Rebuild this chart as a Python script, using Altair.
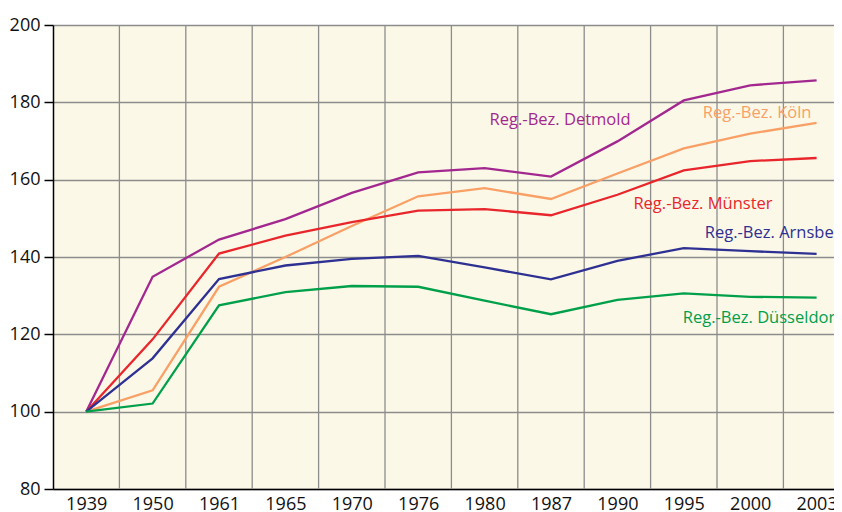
import altair as alt
import pandas as pd

years = ["1939", "1950", "1961", "1965", "1970", "1976", "1980", "1987", "1990", "1995", "2000", "2003"]
series_names = ["Reg.-Bez. Detmold", "Reg.-Bez. Köln", "Reg.-Bez. Münster", "Reg.-Bez. Arnsberg", "Reg.-Bez. Düsseldorf"]
detmold = [100, 134.9, 144.5, 149.8, 156.6, 161.9, 163.0, 160.8, 169.9, 180.5, 184.4, 185.7]
koeln = [100, 105.5, 132.3, 140.0, 148.0, 155.7, 157.8, 155.0, 161.6, 168.1, 171.9, 174.7]
muenster = [100, 118.7, 140.9, 145.5, 149.0, 152.0, 152.4, 150.8, 156.1, 162.4, 164.8, 165.6]
arnsberg = [100, 113.8, 134.3, 137.8, 139.5, 140.3, 137.3, 134.2, 139.0, 142.3, 141.5, 140.8]
duesseldorf = [100, 102.1, 127.5, 130.9, 132.5, 132.3, 128.7, 125.2, 128.9, 130.6, 129.7, 129.5]
colors = ["#A2288F", "#F9A066", "#E8262B", "#2E3192", "#00A04B"]

# label annotations: anchor year, anchor value, pixel shift
label_years = ["1980", "1995", "1990", "1995", "1995"]
label_values = [175.5, 177.3, 153.8, 146.3, 124.1]
label_dx = [5, 19, 16, 21, -1]

FONT = "Open Sans"
W = 781          # visible plot width (plot continues past the window edge)
STEP = 66.4      # pixel width of one year slot
H = 464

pos = {y: i for i, y in enumerate(years)}

rows = []
for name, vals in zip(series_names, [detmold, koeln, muenster, arnsberg, duesseldorf]):
    for y, v in zip(years, vals):
        rows.append({"year": y, "idx": pos[y], "value": v, "series": name})
df = pd.DataFrame(rows)

xscale = alt.Scale(domain=[-0.5, -0.5 + W / STEP], nice=False, zero=False)
yscale = alt.Scale(domain=[80, 200], nice=False, zero=False)
cscale = alt.Scale(domain=series_names, range=colors)

label_expr = "[" + ",".join("'" + y + "'" for y in years) + "][datum.value]"
x_axis = alt.Axis(title=None, values=list(range(len(years))), labelExpr=label_expr,
                  labelAngle=0, ticks=False, grid=False, labelFlush=False,
                  labelOverlap=False,
                  labelFontSize=18, labelFont=FONT, labelColor="#111111",
                  labelPadding=6, domainColor="#000000", domainWidth=1.5)

grid_df = pd.DataFrame({"b": [i + 0.5 for i in range(len(years) - 1)]})
vgrid = alt.Chart(grid_df).mark_rule(color="#8c8c8c", strokeWidth=1.3).encode(
    x=alt.X("b:Q", scale=xscale, axis=x_axis)
)

lines = alt.Chart(df).mark_line(strokeWidth=2.3).encode(
    x=alt.X("idx:Q", scale=xscale, axis=x_axis),
    y=alt.Y("value:Q", scale=yscale,
            axis=alt.Axis(title=None, values=[80, 100, 120, 140, 160, 180, 200],
                          labelFontSize=18, labelFont=FONT, labelColor="#111111",
                          tickSize=9, tickColor="#000000", tickWidth=1.5,
                          domainColor="#000000", domainWidth=1.5, labelPadding=4,
                          grid=True, gridColor="#8c8c8c", gridWidth=1.3)),
    color=alt.Color("series:N", scale=cscale, legend=None),
    detail="series:N",
    order="idx:Q",
)

texts = []
for name, col, ly, lv, ldx in zip(series_names, colors, label_years, label_values, label_dx):
    tdf = pd.DataFrame({"idx": [pos[ly]], "value": [lv], "label": [name]})
    texts.append(
        alt.Chart(tdf).mark_text(align="left", baseline="middle", dx=ldx, fontSize=16.5,
                                 font=FONT, color=col).encode(
            x=alt.X("idx:Q", scale=xscale, axis=x_axis),
            y=alt.Y("value:Q", scale=yscale),
            text="label:N",
        )
    )

chart = alt.layer(vgrid, lines, *texts).properties(
    width=W, height=H,
    autosize=alt.AutoSizeParams(type="none"),
    padding={"left": 45, "top": 17, "right": 0, "bottom": 23},
    background="#ffffff",
).configure_view(fill="#FCF8E8", stroke=None)

chart.save("out.html", embed_options={"renderer": "svg", "actions": False})
